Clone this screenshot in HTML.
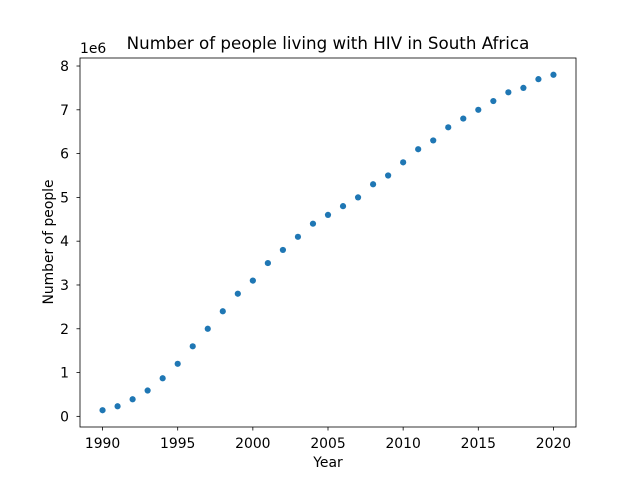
<!DOCTYPE html>
<html><head><meta charset="utf-8"><style>
body{margin:0;background:#fff;}
svg text{font-family:"DejaVu Sans","Liberation Sans",sans-serif;fill:#000;}
</style></head><body>
<svg id="chart" width="640" height="480" viewBox="0 0 640 480" xmlns="http://www.w3.org/2000/svg">
<rect width="640" height="480" fill="#fff"/>
<text x="328" y="49" font-size="16.7" text-anchor="middle">Number of people living with HIV in  South Africa</text>
<text x="328" y="467" font-size="13.9" text-anchor="middle">Year</text>
<text transform="translate(53,242) rotate(-90)" font-size="13.9" text-anchor="middle">Number of people</text>
<text x="80" y="53" font-size="13.9">1e6</text>
<g id="ticks"></g>
<g id="points"></g>
<rect x="80" y="58" width="496" height="369" fill="none" stroke="#000" stroke-width="0.8"/>
</svg>
<script>
const years=[1990,1991,1992,1993,1994,1995,1996,1997,1998,1999,2000,2001,2002,2003,2004,2005,2006,2007,2008,2009,2010,2011,2012,2013,2014,2015,2016,2017,2018,2019,2020];
const people=[0.14,0.23,0.39,0.59,0.87,1.2,1.6,2.0,2.4,2.8,3.1,3.5,3.8,4.1,4.4,4.6,4.8,5.0,5.3,5.5,5.8,6.1,6.3,6.6,6.8,7.0,7.2,7.4,7.5,7.7,7.8];
const xTicks=[1990,1995,2000,2005,2010,2015,2020];
const yTicks=[0,1,2,3,4,5,6,7,8];
const NS="http://www.w3.org/2000/svg";
const L=80,R=576,T=58,B=427;
const xmin0=Math.min(...years),xmax0=Math.max(...years),xp=(xmax0-xmin0)*0.05;
const ymin0=Math.min(...people),ymax0=Math.max(...people),yp=(ymax0-ymin0)*0.05;
function sx(v){return L+(v-(xmin0-xp))/((xmax0+xp)-(xmin0-xp))*(R-L);}
function sy(v){return B-(v-(ymin0-yp))/((ymax0+yp)-(ymin0-yp))*(B-T);}
const tg=document.getElementById('ticks');
function mk(tag,attrs,parent){const e=document.createElementNS(NS,tag);for(const k in attrs)e.setAttribute(k,attrs[k]);parent.appendChild(e);return e;}
xTicks.forEach(t=>{const x=sx(t);
 const l=mk('line',{x1:x,x2:x,y1:B,y2:B+3.5,stroke:'#000','stroke-width':0.8},tg);
 
 
 const s=mk('text',{x:x,y:B+21,'font-size':13.9,'text-anchor':'middle'},tg);s.textContent=t;
 
 });
yTicks.forEach(t=>{const y=sy(t);
 const l=mk('line',{x1:L-3.5,x2:L,y1:y,y2:y,stroke:'#000','stroke-width':0.8},tg);
 
 
 const s=mk('text',{x:L-11,y:y+5,'font-size':13.9,'text-anchor':'end'},tg);s.textContent=t;
 
 });
const pg=document.getElementById('points');
years.forEach((yr,i)=>{const c=mk('circle',{cx:sx(yr),cy:sy(people[i]),r:3.1,fill:'#1f77b4'},pg);
 
 });
</script>
</body></html>
